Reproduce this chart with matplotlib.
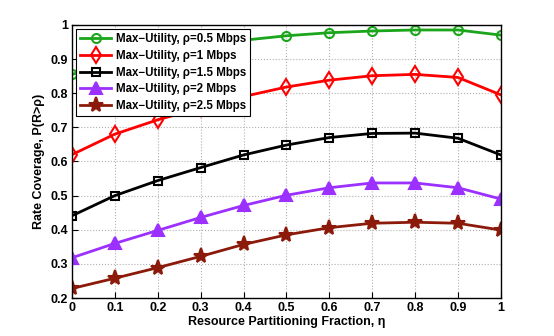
import matplotlib
matplotlib.use("Agg")
import matplotlib.pyplot as plt

eta = [0, 0.1, 0.2, 0.3, 0.4, 0.5, 0.6, 0.7, 0.8, 0.9, 1.0]
cov_05 = [0.855, 0.89, 0.92, 0.94, 0.955, 0.968, 0.977, 0.982, 0.985, 0.985, 0.970]
cov_1 = [0.620, 0.680, 0.722, 0.757, 0.790, 0.818, 0.838, 0.851, 0.855, 0.846, 0.795]
cov_15 = [0.441, 0.500, 0.544, 0.582, 0.619, 0.648, 0.670, 0.682, 0.683, 0.668, 0.619]
cov_2 = [0.318, 0.360, 0.398, 0.436, 0.471, 0.501, 0.523, 0.537, 0.537, 0.523, 0.490]
cov_25 = [0.228, 0.258, 0.289, 0.322, 0.357, 0.385, 0.406, 0.419, 0.422, 0.419, 0.399]
labels = ["Max\u2212Utility, \u03c1=0.5 Mbps", "Max\u2212Utility, \u03c1=1 Mbps",
          "Max\u2212Utility, \u03c1=1.5 Mbps", "Max\u2212Utility, \u03c1=2 Mbps",
          "Max\u2212Utility, \u03c1=2.5 Mbps"]
xticks = [0, 0.1, 0.2, 0.3, 0.4, 0.5, 0.6, 0.7, 0.8, 0.9, 1]
yticks = [0.2, 0.3, 0.4, 0.5, 0.6, 0.7, 0.8, 0.9, 1]

plt.rcParams['font.family'] = ['Liberation Sans', 'DejaVu Sans']
plt.rcParams['font.weight'] = 'bold'

fig = plt.figure(figsize=(5.54, 3.36), dpi=100)
ax = fig.add_axes([0.130, 0.113, 0.774, 0.813])

series = [
    (cov_05, '#1aa51a', 'o', True, 6.5),
    (cov_1, '#ff0000', 'd', True, 8),
    (cov_15, '#000000', 's', True, 6),
    (cov_2, '#9b30ff', '^', False, 8),
    (cov_25, '#8b1a0a', '*', False, 11),
]
for (vals, col, mk, hollow, ms), lab in zip(series, labels):
    kw = dict(color=col, marker=mk, lw=2, label=lab, markeredgewidth=1.5, markersize=ms)
    if hollow:
        kw['markerfacecolor'] = 'none'
    ax.plot(eta, vals, **kw)

ax.set_xlim(0, 1)
ax.set_ylim(0.2, 1)
ax.set_xticks(xticks)
ax.set_xticklabels([f"{t:g}" for t in xticks])
ax.set_yticks(yticks)
ax.set_yticklabels([f"{t:g}" for t in yticks])
ax.tick_params(direction='in', labelsize=9, length=4, pad=3)
ax.grid(True, linestyle=':', color='#b0b0b0', lw=0.8)
for s in ax.spines.values():
    s.set_linewidth(1.0)
ax.set_xlabel("Resource Partitioning Fraction, \u03b7", fontsize=9, fontweight='bold', labelpad=1)
ax.set_ylabel("Rate Coverage, P(R>\u03c1)", fontsize=9, fontweight='bold', labelpad=4)

leg = ax.legend(loc='upper left', fontsize=8.3, handlelength=2.7, borderaxespad=0.35,
                fancybox=False, framealpha=1, edgecolor='black', labelspacing=0.42,
                borderpad=0.35, handletextpad=0.4)
leg.get_frame().set_linewidth(0.8)
for t in leg.get_texts():
    t.set_fontweight('bold')

fig.savefig("out.png", dpi=100)
